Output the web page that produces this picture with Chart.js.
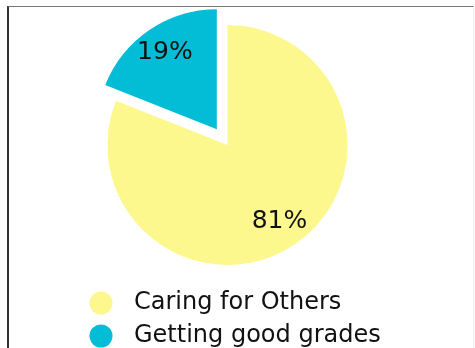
<!DOCTYPE html>
<html>
<head>
<meta charset="utf-8">
<script src="https://cdn.jsdelivr.net/npm/chart.js@4"></script>
<style>
  html, body { margin: 0; padding: 0; background: #fff; overflow: hidden; }
  #frame {
    position: absolute; left: 7px; top: 6px; width: 464px; height: 360px;
    border-left: 2px solid #333; border-top: 1px solid #777; border-right: 1px solid #eee;
  }
  #wrap { position: absolute; left: 0; top: 0; width: 475px; height: 358px; }
</style>
</head>
<body>
<div id="frame"></div>
<div id="wrap"><canvas id="pie"></canvas></div>
<script>
var labels = ["Caring for Others", "Getting good grades"];
var values = [81, 19];
var colors = ["#fcf88e", "#03bdd6"];
// how far each slice is pulled out of the pie (px)
var offsets = [0, 19];

function dot(color){
  var c = document.createElement("canvas");
  c.width = 24; c.height = 24;
  var g = c.getContext("2d");
  g.fillStyle = color;
  g.beginPath();
  g.arc(12, 12, 11.5, 0, Math.PI * 2);
  g.fill();
  return c;
}
var dots = colors.map(dot);

function midDir(arc){
  var p = arc.getProps(["startAngle", "endAngle"], true);
  var mid = (p.startAngle + p.endAngle) / 2;
  return [Math.cos(mid), Math.sin(mid)];
}

// draw the arcs ourselves so a slice can be pulled out without shrinking it
var explode = {
  id: "explode",
  beforeDatasetDraw: function(chart, args){
    var ctx = chart.ctx;
    args.meta.data.forEach(function(arc, i){
      var d = midDir(arc);
      ctx.save();
      ctx.translate(d[0] * offsets[i], d[1] * offsets[i]);
      arc.draw(ctx, chart.chartArea);
      ctx.restore();
    });
    return false;
  }
};

// percent text inside each slice
var pctLabels = {
  id: "pctLabels",
  afterDatasetsDraw: function(chart){
    var ctx = chart.ctx;
    var meta = chart.getDatasetMeta(0);
    var total = values.reduce(function(a, b){ return a + b; }, 0);
    ctx.save();
    ctx.font = "25px 'DejaVu Sans'";
    ctx.fillStyle = "#111";
    ctx.textAlign = "center";
    ctx.textBaseline = "middle";
    meta.data.forEach(function(arc, i){
      var p = arc.getProps(["x", "y", "outerRadius"], true);
      var d = midDir(arc);
      var r = offsets[i] + 0.77 * p.outerRadius;
      var txt = Math.round(values[i] / total * 100) + "%";
      ctx.fillText(txt, p.x + d[0] * r, p.y + d[1] * r);
    });
    ctx.restore();
  }
};

new Chart(document.getElementById("pie").getContext("2d"), {
  type: "pie",
  data: {
    labels: labels,
    datasets: [{
      data: values,
      backgroundColor: colors,
      borderWidth: 0,
      hoverOffset: 0
    }]
  },
  options: {
    responsive: true,
    maintainAspectRatio: false,
    animation: false,
    radius: 120,
    layout: { padding: { left: 71, right: 91, top: 8, bottom: 0 } },
    plugins: {
      tooltip: { enabled: false },
      legend: {
        position: "bottom",
        align: "start",
        labels: {
          usePointStyle: true,
          pointStyleWidth: 42,
          boxHeight: 24,
          padding: 9,
          color: "#111",
          font: { family: "DejaVu Sans", size: 24 },
          generateLabels: function(chart){
            var items = Chart.overrides.pie.plugins.legend.labels.generateLabels(chart);
            items.forEach(function(it, i){ it.pointStyle = dots[i]; });
            return items;
          }
        }
      }
    }
  },
  plugins: [explode, pctLabels]
});
</script>
</body>
</html>
